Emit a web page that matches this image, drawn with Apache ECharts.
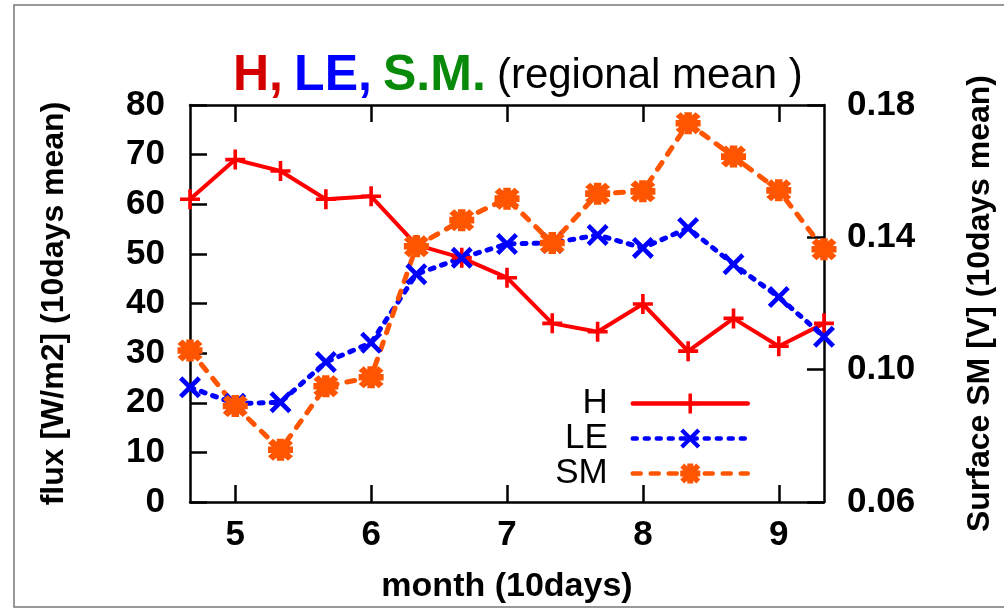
<!DOCTYPE html>
<html>
<head>
<meta charset="UTF-8">
<title>H, LE, S.M. (regional mean)</title>
<script src="https://cdn.jsdelivr.net/npm/echarts@6/dist/echarts.min.js"></script>
<style>
  html, body { margin: 0; padding: 0; background: #fff; }
  #main { width: 1004px; height: 609px; }
</style>
</head>
<body>
<div id="main"></div>
<script>
    // month positions, one point every 10 days
    var months = [4.667, 5, 5.333, 5.667, 6, 6.333, 6.667, 7, 7.333, 7.667, 8, 8.333, 8.667, 9, 9.333];
    var hFlux = [61, 69, 66.7, 61, 61.6, 51.8, 49.2, 45.2, 36, 34.3, 39.9, 30.4, 37, 31.4, 36];
    var leFlux = [23.1, 19.8, 20.1, 28.2, 32.1, 45.9, 49.2, 52, 52.2, 53.8, 51.2, 55.2, 47.9, 41.3, 33.3];
    var smVals = [0.1058, 0.0890, 0.0758, 0.0950, 0.0977, 0.1373, 0.1452, 0.1517, 0.1383, 0.1532, 0.1539, 0.1745, 0.1644, 0.1542, 0.1364];
    var monthTicks = [5, 6, 7, 8, 9];
    var smTicks = [0.06, 0.10, 0.14, 0.18];

    var FONT = 'Liberation Sans, Arial, sans-serif';
    var plusPath = 'path://M-1.8,-10L1.8,-10L1.8,-1.8L10,-1.8L10,1.8L1.8,1.8L1.8,10L-1.8,10L-1.8,1.8L-10,1.8L-10,-1.8L-1.8,-1.8Z';
    var crossPath = 'path://M-10,-7L-7,-10L0,-3L7,-10L10,-7L3,0L10,7L7,10L0,3L-7,10L-10,7L-3,0Z';
    var starPath = 'path://M-3,-10L3,-10L3,-3L10,-3L10,3L3,3L3,10L-3,10L-3,3L-10,3L-10,-3L-3,-3Z' +
        'M-10,-6L-6,-10L0,-4L6,-10L10,-6L4,0L10,6L6,10L0,4L-6,10L-10,6L-4,0Z';

    function pairs(vals) {
        return months.map(function (m, i) { return [m, vals[i]]; });
    }

    var axisLine = {show: true, onZero: false, lineStyle: {color: '#000', width: 2.5}};
    var axisTick = {show: true, inside: true, length: 17, lineStyle: {color: '#000', width: 2.5}};
    var labelStyle = {color: '#000', fontFamily: FONT, fontWeight: 'bold', fontSize: 35};

    var myChart = echarts.init(document.getElementById('main'));
    var option = {
        backgroundColor: '#fff',
        animation: false,
        title: {
            left: 233,
            top: 51,
            padding: 0,
            text: '{h|H,} {le|LE,} {sm|S.M.} {n|(regional mean )}',
            textStyle: {
                fontFamily: FONT,
                fontSize: 40,
                rich: {
                    h: {color: '#d40000', fontWeight: 'bold', fontSize: 50, fontFamily: FONT},
                    le: {color: '#0000ff', fontWeight: 'bold', fontSize: 50, fontFamily: FONT},
                    sm: {color: '#0a8a0a', fontWeight: 'bold', fontSize: 50, fontFamily: FONT},
                    n: {color: '#000', fontWeight: 'normal', fontSize: 42, fontFamily: FONT}
                }
            }
        },
        graphic: [{
            type: 'rect',
            shape: {x: 14, y: 5, width: 1000, height: 602},
            style: {fill: 'none', stroke: '#777', lineWidth: 1.5},
            silent: true
        }],
        legend: {
            orient: 'vertical',
            align: 'right',
            right: 249,
            top: 381,
            itemWidth: 115,
            itemHeight: 25,
            itemGap: 0,
            lineStyle: {width: 4.5},
            textStyle: {
                fontFamily: FONT, fontSize: 35, color: '#000',
                lineHeight: 33, padding: [0, 20, 0, 0]
            },
            data: ['H', 'LE', 'SM']
        },
        grid: {left: 190, right: 180, top: 105, bottom: 101, containLabel: false},
        xAxis: [{
            type: 'value',
            min: 4.667,
            max: 9.333,
            name: 'month (10days)',
            nameLocation: 'middle',
            nameGap: 68,
            nameTextStyle: {color: '#000', fontFamily: FONT, fontWeight: 'bold', fontSize: 34},
            axisLine: axisLine,
            axisTick: Object.assign({customValues: monthTicks}, axisTick),
            axisLabel: Object.assign({customValues: monthTicks, margin: 16}, labelStyle),
            splitLine: {show: false}
        }, {
            type: 'value',
            position: 'top',
            min: 4.667,
            max: 9.333,
            axisLine: axisLine,
            axisTick: Object.assign({customValues: monthTicks}, axisTick),
            axisLabel: {show: false},
            splitLine: {show: false}
        }],
        yAxis: [{
            type: 'value',
            min: 0,
            max: 80,
            interval: 10,
            name: 'flux [W/m2] (10days mean)',
            nameLocation: 'middle',
            nameRotate: 90,
            nameGap: 120,
            nameTextStyle: {color: '#000', fontFamily: FONT, fontWeight: 'bold', fontSize: 32},
            axisLine: axisLine,
            axisTick: axisTick,
            axisLabel: Object.assign({margin: 25}, labelStyle),
            splitLine: {show: false}
        }, {
            type: 'value',
            position: 'right',
            min: 0.06,
            max: 0.18,
            name: 'Surface SM [V] (10days mean)',
            nameLocation: 'middle',
            nameRotate: 90,
            nameGap: 140,
            nameTextStyle: {color: '#000', fontFamily: FONT, fontWeight: 'bold', fontSize: 32},
            axisLine: axisLine,
            axisTick: Object.assign({customValues: smTicks}, axisTick),
            axisLabel: Object.assign({
                customValues: smTicks,
                margin: 23,
                formatter: function (v) { return v.toFixed(2); }
            }, labelStyle),
            splitLine: {show: false}
        }],
        series: [
            {
                name: 'H',
                type: 'line',
                data: pairs(hFlux),
                clip: false,
                symbol: plusPath,
                symbolSize: 20,
                itemStyle: {color: '#ff0000'},
                lineStyle: {color: '#ff0000', width: 4, cap: 'round'}
            }, {
                name: 'LE',
                type: 'line',
                data: pairs(leFlux),
                clip: false,
                symbol: crossPath,
                symbolSize: 22,
                itemStyle: {color: '#0000ff'},
                lineStyle: {color: '#0000ff', width: 5, type: [4, 8], cap: 'round'}
            }, {
                name: 'SM',
                type: 'line',
                yAxisIndex: 1,
                data: pairs(smVals),
                clip: false,
                symbol: starPath,
                symbolSize: [25, 22],
                itemStyle: {color: '#ff5500'},
                lineStyle: {color: '#ff5500', width: 5, type: [8, 10], cap: 'round'}
            }
        ]
    };
    myChart.setOption(option);
</script>
</body>
</html>
